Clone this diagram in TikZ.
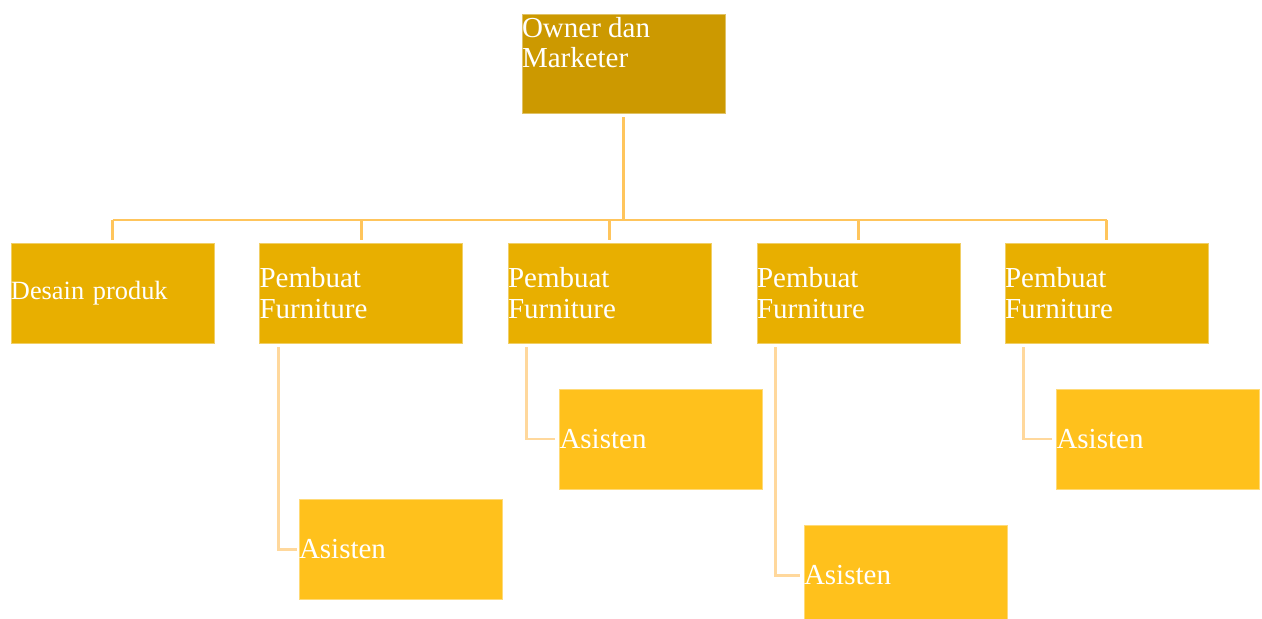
\documentclass[tikz,border=0pt]{standalone}
\usepackage{fontspec}
\setmainfont{Liberation Serif}
\usepackage{tikz}
\usetikzlibrary{positioning, calc}
\definecolor{ownbrown}{RGB}{204,153,0}
\definecolor{pbamber}{RGB}{232,175,0}
\definecolor{asgold}{RGB}{255,193,28}
\definecolor{tlinkc}{RGB}{255,197,92}
\definecolor{alinkc}{RGB}{255,216,156}

\begin{document}
\begin{tikzpicture}[
  ownnode/.style={rectangle, draw=ownbrown!60!white, fill=ownbrown, minimum width=4.06cm, minimum height=1.98cm, line width=0.4pt, inner sep=0pt},
  pbnode/.style={rectangle, draw=pbamber!60!white, fill=pbamber, text width=4.06cm, align=left, minimum height=2cm, inner sep=0pt, text=white, font=\fontsize{16.5}{17.5}\selectfont, line width=0.4pt},
  asnode/.style={rectangle, draw=asgold!60!white, fill=asgold, text width=4.06cm, align=left, minimum height=2cm, inner sep=0pt, text=white, font=\fontsize{16.5}{17.5}\selectfont, line width=0.4pt},
  tlink/.style={draw=tlinkc, line width=1.7pt},
  alink/.style={draw=alinkc, line width=1.7pt}]

  \useasboundingbox (0,0) rectangle (25.24,-12.36);

  % Nodes
  \node[ownnode] (own) at (12.47,-1.27) {};
  \node[anchor=north west, inner sep=0pt, yshift=-0.06cm, align=left, text=white, font=\fontsize{16.5}{17.5}\selectfont] (owntxt) at (own.north west) {Owner dan\\Marketer};

  \node[pbnode, font=\fontsize{15}{16}\selectfont] (desain) at (2.25,-5.86) {Desain produk};
  \node[pbnode] (pb1) at (7.22,-5.86) {Pembuat\\Furniture};
  \node[pbnode] (pb2) at (12.19,-5.86) {Pembuat\\Furniture};
  \node[pbnode] (pb3) at (17.17,-5.86) {Pembuat\\Furniture};
  \node[pbnode] (pb4) at (22.13,-5.86) {Pembuat\\Furniture};

  \node[asnode] (as1) at (8.01,-10.98) {Asisten};
  \node[asnode] (as2) at (13.22,-8.78) {Asisten};
  \node[asnode] (as3) at (18.11,-11.50) {Asisten};
  \node[asnode] (as4) at (23.16,-8.78) {Asisten};

  \coordinate (bus) at (0,-4.40);

  % Connections
  \draw[tlink, shorten <=0.08cm] (own.south) -- (own.south |- bus);
  \draw[tlink] (desain.north |- bus) -- (pb4.north |- bus);
  \foreach \n in {desain,pb1,pb2,pb3,pb4}
    \draw[tlink, shorten <=0.06cm] (\n.north) -- (\n.north |- bus);

  \draw[alink, shorten <=0.08cm, shorten >=0.04cm] ([xshift=0.38cm]pb1.south west) |- (as1.west);
  \draw[alink, shorten <=0.08cm, shorten >=0.08cm] ([xshift=0.38cm]pb2.south west) |- (as2.west);
  \draw[alink, shorten <=0.08cm, shorten >=0.08cm] ([xshift=0.38cm]pb3.south west) |- (as3.west);
  \draw[alink, shorten <=0.08cm, shorten >=0.08cm] ([xshift=0.38cm]pb4.south west) |- (as4.west);

\end{tikzpicture}
\end{document}
